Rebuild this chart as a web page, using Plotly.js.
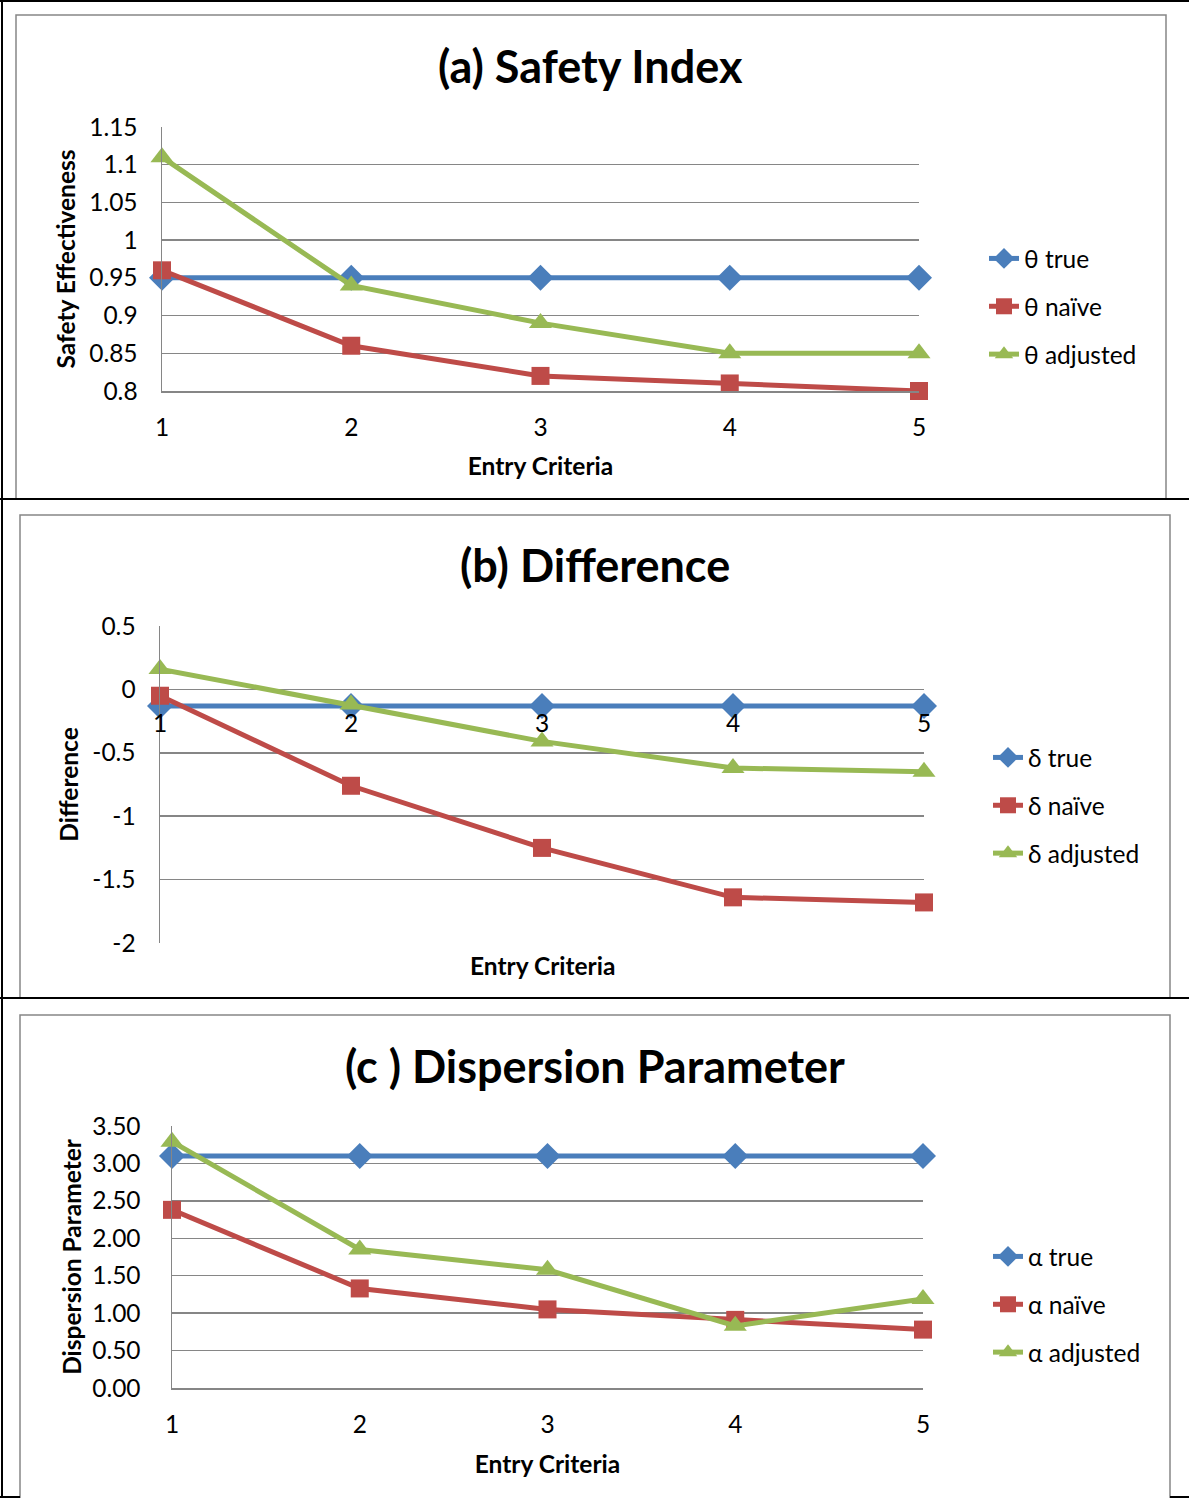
<!DOCTYPE html>
<html>
<head>
<meta charset="utf-8">
<script src="https://cdn.plot.ly/plotly-3.0.1.min.js"></script>
<style>
html,body{margin:0;padding:0;background:#fff;}
#chart{width:1189px;height:1498px;}
</style>
</head>
<body>
<div id="chart"></div>
<script>
// ---------- DATA ----------
const entryCriteria = [1, 2, 3, 4, 5];

const thetaTrue     = [0.95, 0.95, 0.95, 0.95, 0.95];
const thetaNaive    = [0.96, 0.86, 0.82, 0.81, 0.80];
const thetaAdjusted = [1.11, 0.94, 0.89, 0.85, 0.85];

const deltaTrue     = [-0.13, -0.13, -0.13, -0.13, -0.13];
const deltaNaive    = [-0.05, -0.76, -1.25, -1.64, -1.68];
const deltaAdjusted = [0.16, -0.12, -0.41, -0.62, -0.65];

const alphaTrue     = [3.10, 3.10, 3.10, 3.10, 3.10];
const alphaNaive    = [2.38, 1.33, 1.05, 0.91, 0.78];
const alphaAdjusted = [3.29, 1.85, 1.58, 0.83, 1.19];

const diffTickVals  = [-2, -1.5, -1, -0.5, 0, 0.5];
const diffTickText  = ["-2", "-1.5", "-1", "-0.5", "0", "0.5"];

const titles = ["(a) Safety Index", "(b) Difference", "(c ) Dispersion Parameter"];
const yTitles = ["Safety Effectiveness", "Difference", "Dispersion Parameter"];
const xTitle = "Entry Criteria";
const seriesNames = [
  ["θ true", "θ naïve", "θ adjusted"],
  ["δ true", "δ naïve", "δ adjusted"],
  ["α true", "α naïve", "α adjusted"]
];

// ---------- STYLE ----------
const W = 1189, H = 1498;
const fx = p => p / W;
const fy = p => 1 - p / H;
const FONT = "Lato, 'Open Sans', sans-serif";
const GRID = "#868686";
const BLUE = "#4A7EBB", RED = "#BE4B48", GREEN = "#98B954";
const FS = 24.5;

function series(x, y, name, color, symbol, size, xa, ya, legend) {
  return {
    type: "scatter", mode: "lines+markers", x: x, y: y, name: name,
    xaxis: xa, yaxis: ya, legend: legend, legendgroup: legend + name,
    line: {color: color, width: 5},
    marker: {color: color, symbol: symbol, size: size, line: {width: 0}},
    cliponaxis: false, hoverinfo: "x+y+name"
  };
}

const data = [
  series(entryCriteria, thetaTrue, seriesNames[0][0], BLUE, "diamond", 20, "x", "y", "legend"),
  series(entryCriteria, thetaNaive, seriesNames[0][1], RED, "square", 18, "x", "y", "legend"),
  series(entryCriteria, thetaAdjusted, seriesNames[0][2], GREEN, "triangle-up", 20, "x", "y", "legend"),
  series(entryCriteria, deltaTrue, seriesNames[1][0], BLUE, "diamond", 20, "x2", "y2", "legend2"),
  series(entryCriteria, deltaNaive, seriesNames[1][1], RED, "square", 18, "x2", "y2", "legend2"),
  series(entryCriteria, deltaAdjusted, seriesNames[1][2], GREEN, "triangle-up", 20, "x2", "y2", "legend2"),
  series(entryCriteria, alphaTrue, seriesNames[2][0], BLUE, "diamond", 20, "x3", "y3", "legend3"),
  series(entryCriteria, alphaNaive, seriesNames[2][1], RED, "square", 18, "x3", "y3", "legend3"),
  series(entryCriteria, alphaAdjusted, seriesNames[2][2], GREEN, "triangle-up", 20, "x3", "y3", "legend3")
];

const tickFont = {family: FONT, size: FS, color: "#000"};
const axTitleFont = {family: FONT, size: FS, color: "#000", weight: "bold"};

function xAxis(dom, anchor, extra) {
  return Object.assign({
    domain: dom, anchor: anchor, range: [1, 5], tickmode: "array",
    tickvals: entryCriteria, ticktext: entryCriteria.map(String),
    showgrid: false, zeroline: false, showline: true, linecolor: GRID, linewidth: 1.5,
    ticks: "outside", ticklen: 14, tickcolor: "rgba(0,0,0,0)",
    tickfont: tickFont, fixedrange: true
  }, extra || {});
}
function yAxis(dom, anchor, range, dtick, fmt, tlen, title, standoff, extra) {
  return Object.assign({
    domain: dom, anchor: anchor, range: range, dtick: dtick, tick0: range[0],
    tickformat: fmt, showgrid: true, gridcolor: GRID, gridwidth: 1.5,
    zeroline: false, showline: true, linecolor: GRID, linewidth: 1.5,
    ticks: "outside", ticklen: tlen, tickcolor: "rgba(0,0,0,0)",
    tickfont: tickFont, fixedrange: true,
    title: {text: title, font: axTitleFont, standoff: standoff}
  }, extra || {});
}

const y2dom = [fy(943), fy(626)];
const y2range = [-2, 0.5];
const zeroPos = y2dom[0] + (0 - y2range[0]) / (y2range[1] - y2range[0]) * (y2dom[1] - y2dom[0]);

const legendCommon = {
  xanchor: "left", yanchor: "top", bgcolor: "rgba(0,0,0,0)",
  font: {family: FONT, size: FS, color: "#000"}, tracegroupgap: 13, traceorder: "grouped"
};

function frame(x0, y0, x1, y1, color, w) {
  return {type: "rect", xref: "paper", yref: "paper", x0: fx(x0), x1: fx(x1), y0: fy(y1), y1: fy(y0),
          line: {color: color, width: w}, fillcolor: "rgba(0,0,0,0)", layer: "below"};
}
function hline(x0, x1, y, color, w) {
  return {type: "line", xref: "paper", yref: "paper", x0: fx(x0), x1: fx(x1), y0: fy(y), y1: fy(y),
          line: {color: color, width: w}, layer: "above"};
}
function vline(x, y0, y1, color, w) {
  return {type: "line", xref: "paper", yref: "paper", x0: fx(x), x1: fx(x), y0: fy(y0), y1: fy(y1),
          line: {color: color, width: w}, layer: "above"};
}
const titleFont = {family: FONT, size: 45, weight: "bold", color: "#000"};

const layout = {
  width: W, height: H, margin: {l: 0, r: 0, t: 0, b: 0},
  paper_bgcolor: "#fff", plot_bgcolor: "rgba(0,0,0,0)",
  font: {family: FONT, color: "#000"},
  showlegend: true,
  xaxis: xAxis([fx(162), fx(919)], "y", {title: {text: xTitle, font: axTitleFont, standoff: 18}}),
  yaxis: yAxis([fy(391), fy(127)], "x", [0.8, 1.15], 0.05, "", 18, yTitles[0], 6),
  xaxis2: xAxis([fx(160), fx(924)], "free", {position: zeroPos, showline: false, ticklen: 12}),
  yaxis2: yAxis(y2dom, "x2", y2range, 0.5, "", 18, yTitles[1], 6,
                {tickmode: "array", tickvals: diffTickVals, ticktext: diffTickText}),
  xaxis3: xAxis([fx(172), fx(923)], "y3", {title: {text: xTitle, font: axTitleFont, standoff: 19}}),
  yaxis3: yAxis([fy(1388), fy(1126)], "x3", [0, 3.5], 0.5, ".2f", 25, yTitles[2], 3),
  legend: Object.assign({x: fx(984), y: fy(236)}, legendCommon),
  legend2: Object.assign({x: fx(988), y: fy(735)}, legendCommon),
  legend3: Object.assign({x: fx(988), y: fy(1234)}, legendCommon),
  annotations: [
    {text: titles[0], xref: "paper", yref: "paper", x: fx(590), y: fy(66), showarrow: false,
     xanchor: "center", yanchor: "middle", font: titleFont},
    {text: titles[1], xref: "paper", yref: "paper", x: fx(595), y: fy(565), showarrow: false,
     xanchor: "center", yanchor: "middle", font: titleFont},
    {text: titles[2], xref: "paper", yref: "paper", x: fx(595), y: fy(1066), showarrow: false,
     xanchor: "center", yanchor: "middle", font: titleFont},
    {text: xTitle, xref: "paper", yref: "paper", x: fx(542), y: fy(966), showarrow: false,
     xanchor: "center", yanchor: "middle", font: axTitleFont}
  ],
  shapes: [
    frame(16, 15, 1166, 499, GRID, 1.5),
    frame(20, 515, 1170, 998, GRID, 1.5),
    frame(20, 1015, 1170, 1510, GRID, 1.5),
    hline(0, W, 1, "#000", 2),
    vline(2, 0, H, "#000", 2),
    hline(0, W, 499, "#000", 2),
    hline(0, W, 998, "#000", 2),
    hline(0, 20, 1497, "#000", 2),
    hline(1170, W, 1497, "#000", 2)
  ]
};

Plotly.newPlot("chart", data, layout, {displayModeBar: false, staticPlot: true});
</script>
</body>
</html>
